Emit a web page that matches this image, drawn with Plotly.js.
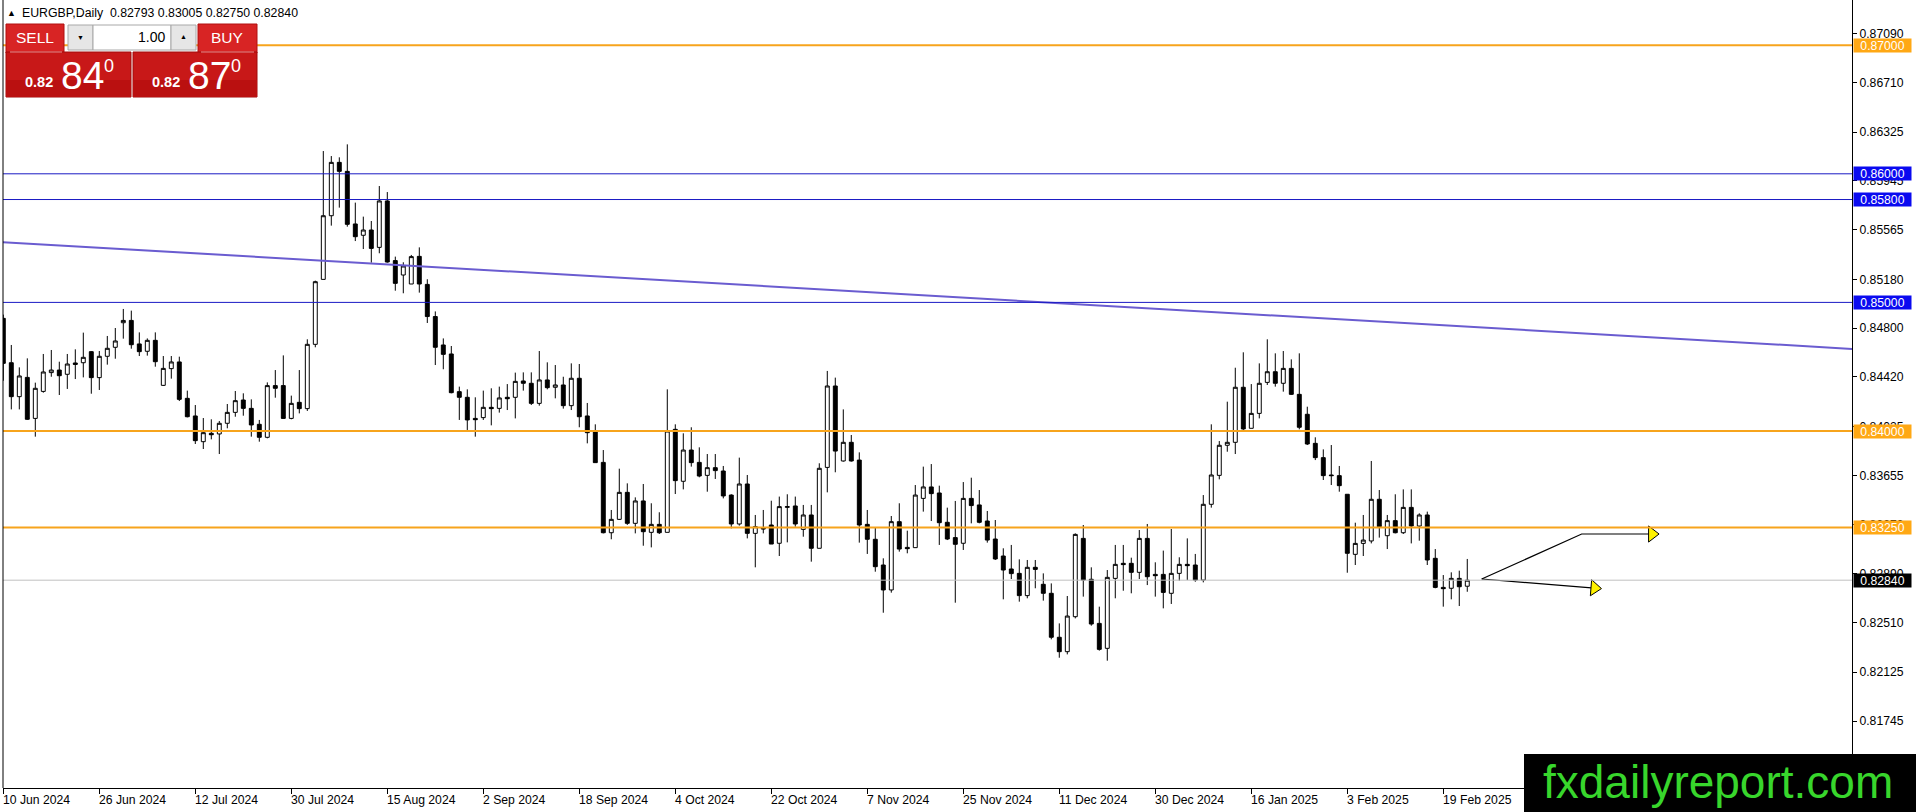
<!DOCTYPE html>
<html><head><meta charset="utf-8">
<script src="https://cdn.plot.ly/plotly-3.0.1.min.js"></script>
<style>html,body{margin:0;padding:0;background:#fff;overflow:hidden}#chart{width:1916px;height:812px}</style>
</head><body><div id="chart"></div>
<script>
// ---------------- data ----------------
const symbolName = 'EURGBP,Daily';
const tickLabels = ['10 Jun 2024','26 Jun 2024','12 Jul 2024','30 Jul 2024','15 Aug 2024','2 Sep 2024','18 Sep 2024','4 Oct 2024','22 Oct 2024','7 Nov 2024','25 Nov 2024','11 Dec 2024','30 Dec 2024','16 Jan 2025','3 Feb 2025','19 Feb 2025'];
const barsPerLabel = 12;

const open = [0.84876,0.84531,0.84267,0.84417,0.84098,0.84308,0.84454,0.84474,0.84441,0.84529,0.84531,0.84617,0.84415,0.84581,0.84651,0.84842,0.84860,0.84677,0.84620,0.84705,
0.84355,0.84485,0.84537,0.84254,0.84117,0.83917,0.83982,0.83977,0.84060,0.84145,0.84241,0.84176,0.84052,0.83951,0.84353,0.84353,0.84098,0.84223,0.84174,0.84674,
0.85179,0.85674,0.86089,0.86019,0.85610,0.85522,0.85563,0.85428,0.85789,0.85325,0.85213,0.85143,0.85358,0.85140,0.84890,0.84669,0.84599,0.84306,0.84262,0.84098,
0.84104,0.84184,0.84176,0.84262,0.84262,0.84389,0.84371,0.84215,0.84397,0.84340,0.84358,0.84197,0.84410,0.84117,0.83992,0.83756,0.83209,0.83313,0.83523,0.83282,
0.83456,0.83212,0.83274,0.83212,0.84013,0.83609,0.83852,0.83756,0.83655,0.83715,0.83689,0.83502,0.83277,0.83588,0.83204,0.83248,0.83269,0.83127,0.83406,0.83417,
0.83235,0.83347,0.83088,0.83717,0.84350,0.83767,0.83912,0.83774,0.83274,0.83158,0.82958,0.82764,0.83295,0.83095,0.83093,0.83476,0.83565,0.83518,0.83290,0.83171,
0.83127,0.83476,0.83425,0.83300,0.83160,0.83028,0.82927,0.82893,0.82720,0.82940,0.82808,0.82738,0.82396,0.82284,0.82556,0.83165,0.82847,0.82504,0.82310,0.82854,
0.82971,0.82971,0.82901,0.83165,0.82885,0.82885,0.82738,0.82893,0.82963,0.82958,0.82841,0.83430,0.83655,0.83889,0.83912,0.84340,0.84021,0.84137,0.84378,0.84461,
0.84371,0.84487,0.84285,0.84130,0.83904,0.83793,0.83658,0.83653,0.83508,0.83041,0.83126,0.83145,0.83469,0.83186,0.83303,0.83209,0.83406,0.83261,0.83347,0.83010,
0.82784,0.82777,0.82854,0.82793];
const high = [0.84905,0.84669,0.84495,0.84565,0.84376,0.84599,0.84630,0.84539,0.84599,0.84635,0.84765,0.84622,0.84622,0.84739,0.84801,0.84949,0.84936,0.84767,0.84720,0.84767,
0.84583,0.84583,0.84578,0.84314,0.84202,0.84101,0.84091,0.84078,0.84210,0.84311,0.84293,0.84246,0.84086,0.84378,0.84474,0.84588,0.84275,0.84474,0.84713,0.85169,
0.86177,0.86138,0.86128,0.86229,0.85776,0.85667,0.85633,0.85905,0.85858,0.85356,0.85312,0.85369,0.85428,0.85180,0.84930,0.84720,0.84661,0.84345,0.84324,0.84262,
0.84314,0.84332,0.84345,0.84365,0.84454,0.84456,0.84456,0.84622,0.84534,0.84513,0.84422,0.84526,0.84521,0.84218,0.84052,0.83852,0.83386,0.83707,0.83593,0.83484,
0.83588,0.83438,0.83368,0.84324,0.84052,0.83982,0.84029,0.83873,0.83821,0.83821,0.83728,0.83508,0.83793,0.83658,0.83347,0.83386,0.83458,0.83490,0.83508,0.83490,
0.83425,0.83425,0.83749,0.84467,0.84415,0.84168,0.83969,0.83834,0.83386,0.83248,0.83010,0.83339,0.83438,0.83225,0.83580,0.83723,0.83743,0.83575,0.83404,0.83456,
0.83603,0.83637,0.83541,0.83378,0.83308,0.83088,0.83114,0.83002,0.82997,0.82997,0.82893,0.82815,0.82504,0.82717,0.83204,0.83269,0.82940,0.82634,0.82919,0.83114,
0.83114,0.83015,0.83230,0.83277,0.82979,0.83070,0.83238,0.83018,0.83165,0.83044,0.83502,0.84052,0.83922,0.84228,0.84492,0.84612,0.84365,0.84526,0.84713,0.84604,
0.84622,0.84557,0.84604,0.84189,0.83951,0.83857,0.83891,0.83728,0.83508,0.83287,0.83347,0.83767,0.83541,0.83347,0.83508,0.83546,0.83546,0.83360,0.83373,0.83082,
0.82880,0.82901,0.82914,0.83005];
const low = [0.84391,0.84168,0.84168,0.84086,0.83956,0.84298,0.84422,0.84280,0.84327,0.84404,0.84417,0.84290,0.84319,0.84516,0.84562,0.84718,0.84640,0.84583,0.84586,0.84500,
0.84350,0.84407,0.84233,0.84106,0.83899,0.83860,0.83935,0.83821,0.84021,0.84111,0.84119,0.83956,0.83917,0.83943,0.84259,0.84096,0.84091,0.84137,0.84156,0.84651,
0.85179,0.85597,0.85737,0.85589,0.85477,0.85415,0.85309,0.85382,0.85309,0.85091,0.85071,0.85143,0.85076,0.84840,0.84513,0.84480,0.84293,0.84086,0.84008,0.83956,
0.84086,0.84044,0.84143,0.84163,0.84098,0.84314,0.84202,0.84197,0.84324,0.84254,0.84174,0.84163,0.84029,0.83904,0.83754,0.83204,0.83158,0.83308,0.83270,0.83204,
0.83108,0.83095,0.83199,0.83212,0.83510,0.83546,0.83723,0.83640,0.83528,0.83627,0.83476,0.83243,0.83264,0.83165,0.82940,0.83204,0.83121,0.83028,0.83134,0.83256,
0.83178,0.82984,0.83088,0.83523,0.83679,0.83762,0.83762,0.83132,0.83044,0.82906,0.82587,0.82743,0.83062,0.83049,0.83093,0.83373,0.83300,0.83114,0.83152,0.82665,
0.83075,0.83282,0.83282,0.83132,0.82997,0.82691,0.82849,0.82673,0.82699,0.82777,0.82681,0.82380,0.82237,0.82263,0.82543,0.82712,0.82486,0.82292,0.82214,0.82699,
0.82758,0.82738,0.82849,0.82802,0.82712,0.82621,0.82655,0.82836,0.82841,0.82828,0.82823,0.83404,0.83624,0.83839,0.83821,0.84008,0.84021,0.84098,0.84358,0.84345,
0.84306,0.84280,0.84013,0.83891,0.83774,0.83619,0.83580,0.83528,0.82898,0.82958,0.83028,0.83126,0.83171,0.83082,0.83204,0.83199,0.83126,0.83147,0.82958,0.82777,
0.82634,0.82691,0.82639,0.82750];
const close = [0.84526,0.84267,0.84428,0.84091,0.84332,0.84459,0.84474,0.84430,0.84521,0.84518,0.84573,0.84415,0.84581,0.84643,0.84700,0.84860,0.84671,0.84617,0.84705,0.84539,
0.84487,0.84537,0.84246,0.84111,0.83925,0.83987,0.83971,0.84060,0.84145,0.84236,0.84176,0.84047,0.83951,0.84353,0.84332,0.84098,0.84215,0.84174,0.84674,0.85161,
0.85674,0.86089,0.86019,0.85607,0.85511,0.85563,0.85420,0.85789,0.85314,0.85148,0.85283,0.85356,0.85143,0.84890,0.84651,0.84596,0.84298,0.84262,0.84086,0.84088,
0.84184,0.84174,0.84257,0.84251,0.84386,0.84371,0.84215,0.84397,0.84337,0.84358,0.84197,0.84410,0.84111,0.83987,0.83754,0.83209,0.83313,0.83523,0.83282,0.83456,
0.83217,0.83274,0.83209,0.84000,0.83614,0.83852,0.83754,0.83650,0.83715,0.83692,0.83495,0.83277,0.83588,0.83204,0.83256,0.83238,0.83121,0.83412,0.83412,0.83277,
0.83347,0.83088,0.83710,0.84350,0.83844,0.83912,0.83767,0.83269,0.83158,0.82945,0.82764,0.83295,0.83082,0.83085,0.83502,0.83565,0.83513,0.83287,0.83160,0.83119,
0.83476,0.83420,0.83290,0.83152,0.83005,0.82919,0.82891,0.82720,0.82940,0.82924,0.82738,0.82396,0.82284,0.82561,0.83196,0.82841,0.82499,0.82302,0.82862,0.82963,
0.82961,0.82901,0.83165,0.82867,0.82875,0.82745,0.82893,0.82963,0.82953,0.82841,0.83430,0.83658,0.83889,0.83912,0.84340,0.84016,0.84137,0.84371,0.84461,0.84371,
0.84487,0.84285,0.84029,0.83899,0.83793,0.83653,0.83653,0.83575,0.83049,0.83126,0.83152,0.83469,0.83256,0.83303,0.83209,0.83406,0.83261,0.83347,0.82997,0.82784,
0.82774,0.82854,0.82789,0.82840];

const priceTicks = [0.87090,0.86710,0.86325,0.85945,0.85565,0.85180,0.84800,0.84420,0.84035,0.83655,0.83270,0.82890,0.82510,0.82125,0.81745];
const orangeLevels = [0.87000,0.84000,0.83250];
const blueLevels = [0.86000,0.85800,0.85000];
const bidPrice = 0.82840;
const askPrice = 0.82870;
const lotSize = '1.00';
const trendBars = [0, 180];
const trendPrices = [0.85468, 0.84822];
const arrowUpBars = [184.8, 197.3, 206.1];
const arrowUpPrices = [0.82849, 0.83199, 0.83199];
const arrowDnBars = [184.8, 198.9];
const arrowDnPrices = [0.82849, 0.82779];
const watermark = 'fxdailyreport.com';

// ---------------- layout geometry ----------------
const W = 1916, H = 812, ML = 3, MR = 64, MT = 0, MB = 24;
const PW = W - ML - MR, PH = H - MT - MB;
const xRange = [-0.0375, 231.09];
const yRange = [0.81224, 0.873515];
const FONT = 'Liberation Sans, Arial, sans-serif';
const AXF = 12.2;
const px = x => (x - ML) / PW;          // pixel -> paper x
const py = y => (PH - (y - MT)) / PH;    // pixel -> paper y

const idx = open.map((_, i) => i);
const fmt = v => v.toFixed(5);

const traces = [];
traces.push({
  type: 'candlestick', x: idx, open: open, high: high, low: low, close: close,
  increasing: {line: {color: '#000', width: 1}, fillcolor: '#ffffff'},
  decreasing: {line: {color: '#000', width: 1}, fillcolor: '#000000'},
  whiskerwidth: 0, hoverinfo: 'skip', showlegend: false
});
// trend line (ray extended across the chart)
const slope = (trendPrices[1] - trendPrices[0]) / (trendBars[1] - trendBars[0]);
const tx = [xRange[0] - 2, xRange[1] + 2];
traces.push({type: 'scatter', mode: 'lines', x: tx, y: tx.map(v => trendPrices[0] + slope * (v - trendBars[0])),
  line: {color: '#6A5CD0', width: 2}, hoverinfo: 'skip', showlegend: false});

// arrows
const pxPerBar = PW / (xRange[1] - xRange[0]);
const pxPerPrice = PH / (yRange[1] - yRange[0]);
function arrowTraces(bx, bp) {
  const n = bx.length;
  const dx = (bx[n-1] - bx[n-2]) * pxPerBar, dy = -(bp[n-1] - bp[n-2]) * pxPerPrice;
  const ang = Math.atan2(dy, dx) * 180 / Math.PI;
  return [
    {type: 'scatter', mode: 'lines', x: bx, y: bp, line: {color: '#000', width: 1.2}, hoverinfo: 'skip', showlegend: false},
    {type: 'scatter', mode: 'markers', x: [bx[n-1]], y: [bp[n-1]],
     marker: {symbol: 'triangle-right', size: 14, color: '#FFF200', angle: ang, line: {color: '#000', width: 1}},
     hoverinfo: 'skip', showlegend: false}
  ];
}
traces.push(...arrowTraces(arrowUpBars, arrowUpPrices));
traces.push(...arrowTraces(arrowDnBars, arrowDnPrices));

// ---------------- shapes ----------------
const shapes = [];
const hline = (y, color, width) => ({type: 'line', xref: 'paper', x0: 0, x1: 1, yref: 'y', y0: y, y1: y, line: {color: color, width: width}, layer: 'above'});
shapes.push(hline(bidPrice, '#C0C0C0', 1));
blueLevels.forEach(v => shapes.push(hline(v, '#1A1AC4', 1)));
orangeLevels.forEach(v => shapes.push(hline(v, '#F7A41C', 2)));
// chart left frame
shapes.push({type: 'line', xref: 'paper', yref: 'paper', x0: 0, x1: 0, y0: 0, y1: 1, line: {color: '#000', width: 1}, layer: 'above'});
// trading panel
const rect = (x0, y0, x1, y1, fill, line) => ({type: 'rect', xref: 'paper', yref: 'paper', x0: px(x0), x1: px(x1), y0: py(y1), y1: py(y0),
  fillcolor: fill, line: {color: line || fill, width: line ? 1 : 0}, layer: 'above'});
shapes.push(rect(6, 24, 64, 53, '#D82424', '#B01010'));
shapes.push(rect(6, 52, 131, 97, '#C81818', '#A00A0A'));
shapes.push(rect(198, 24, 257, 53, '#D82424', '#B01010'));
shapes.push(rect(133, 52, 257, 97, '#C81818', '#A00A0A'));
shapes.push(rect(7, 53, 130, 56, '#C81818'));
shapes.push(rect(134, 53, 256, 56, '#C81818'));
shapes.push(rect(6, 80, 131, 97, '#BA1010'));
shapes.push(rect(133, 80, 257, 97, '#BA1010'));
shapes.push({type: 'line', xref: 'paper', yref: 'paper', x0: px(10), x1: px(62), y0: py(52), y1: py(52), line: {color: '#F09090', width: 1}, layer: 'above'});
shapes.push({type: 'line', xref: 'paper', yref: 'paper', x0: px(201), x1: px(254), y0: py(52), y1: py(52), line: {color: '#F09090', width: 1}, layer: 'above'});
shapes.push(rect(68, 25, 93, 50, '#E6E6E6', '#A8A8A8'));
shapes.push(rect(93, 25, 171, 50, '#FFFFFF', '#A8A8A8'));
shapes.push(rect(171, 25, 196, 50, '#E6E6E6', '#A8A8A8'));
// watermark box
shapes.push(rect(1524, 754, 1920, 816, '#000000'));

// ---------------- annotations ----------------
const ann = [];
const pann = (x, y, text, o) => Object.assign({xref: 'paper', yref: 'paper', x: px(x), y: py(y), text: text, showarrow: false,
  xanchor: 'center', yanchor: 'middle', borderpad: 0, font: {family: FONT, size: AXF, color: '#000'}}, o || {});
// header
const n = open.length - 1;
ann.push(pann(6, 13, '▲', {xanchor: 'left', font: {family: FONT, size: 9, color: '#000'}}));
ann.push(pann(21, 13, symbolName + '  ' + [open[n], high[n], low[n], close[n]].map(fmt).join(' '), {xanchor: 'left', font: {family: FONT, size: 12.3, color: '#000'}}));
// panel texts
const bigParts = v => { const s = fmt(v); return [s.slice(0, 4), s.slice(4, 6), s.slice(6)]; };
const sp = bigParts(bidPrice), bp = bigParts(askPrice);
ann.push(pann(35, 38, 'SELL', {font: {family: FONT, size: 15.5, color: '#fff'}}));
ann.push(pann(227, 38, 'BUY', {font: {family: FONT, size: 15.5, color: '#fff'}}));
ann.push(pann(80.5, 38, '▼', {font: {family: FONT, size: 7, color: '#000'}}));
ann.push(pann(183.5, 37, '▲', {font: {family: FONT, size: 7, color: '#000'}}));
ann.push(pann(166, 37, lotSize, {xanchor: 'right', font: {family: FONT, size: 14, color: '#000'}}));
[[sp, 24, 60, 103], [bp, 151, 187, 230]].forEach(([parts, x1, x2, x3]) => {
  ann.push(pann(x1, 82, '<b>' + parts[0] + '</b>', {xanchor: 'left', font: {family: FONT, size: 14.5, color: '#fff'}}));
  ann.push(pann(x2, 76, parts[1], {xanchor: 'left', font: {family: FONT, size: 39, color: '#fff'}}));
  ann.push(pann(x3, 66, parts[2], {xanchor: 'left', font: {family: FONT, size: 18, color: '#fff'}}));
});
// level labels on the price axis
const levelLabel = (v, bg) => ({xref: 'paper', yref: 'y', x: 1, y: v, xanchor: 'left', yanchor: 'middle', xshift: 1,
  text: fmt(v), showarrow: false, bgcolor: bg, width: 57, height: 13, borderpad: 0, align: 'center',
  font: {family: FONT, size: AXF, color: '#fff'}});
orangeLevels.forEach(v => ann.push(levelLabel(v, '#FFA814')));
blueLevels.forEach(v => ann.push(levelLabel(v, '#0A0AF0')));
ann.push(levelLabel(bidPrice, '#000000'));
// time labels (left-aligned at their tick)
tickLabels.forEach((t, i) => ann.push({xref: 'x', yref: 'paper', x: i * barsPerLabel, y: 0, xanchor: 'left', yanchor: 'top',
  xshift: -1, yshift: -4, text: t, showarrow: false, borderpad: 0, font: {family: FONT, size: AXF, color: '#000'}}));
// watermark
ann.push(pann(1718, 782, watermark, {font: {family: FONT, size: 46, color: '#38D62C'}}));

const layout = {
  width: W, height: H, margin: {l: ML, r: MR, t: MT, b: MB, pad: 0},
  paper_bgcolor: '#fff', plot_bgcolor: '#fff', showlegend: false, dragmode: false,
  font: {family: FONT, size: AXF, color: '#000'},
  xaxis: {range: xRange, type: 'linear', rangeslider: {visible: false}, showgrid: false, zeroline: false,
    showline: true, linecolor: '#000', linewidth: 1, ticks: 'outside', ticklen: 5, tickcolor: '#000',
    tickvals: tickLabels.map((_, i) => i * barsPerLabel), showticklabels: false, fixedrange: true},
  yaxis: {range: yRange, side: 'right', showgrid: false, zeroline: false, showline: true, linecolor: '#000', linewidth: 1,
    ticks: 'outside', ticklen: 4, tickcolor: '#000', tickvals: priceTicks, ticktext: priceTicks.map(fmt),
    tickfont: {family: FONT, size: AXF, color: '#000'}, fixedrange: true},
  shapes: shapes, annotations: ann
};
Plotly.newPlot('chart', traces, layout, {displayModeBar: false, staticPlot: true});
</script></body></html>
